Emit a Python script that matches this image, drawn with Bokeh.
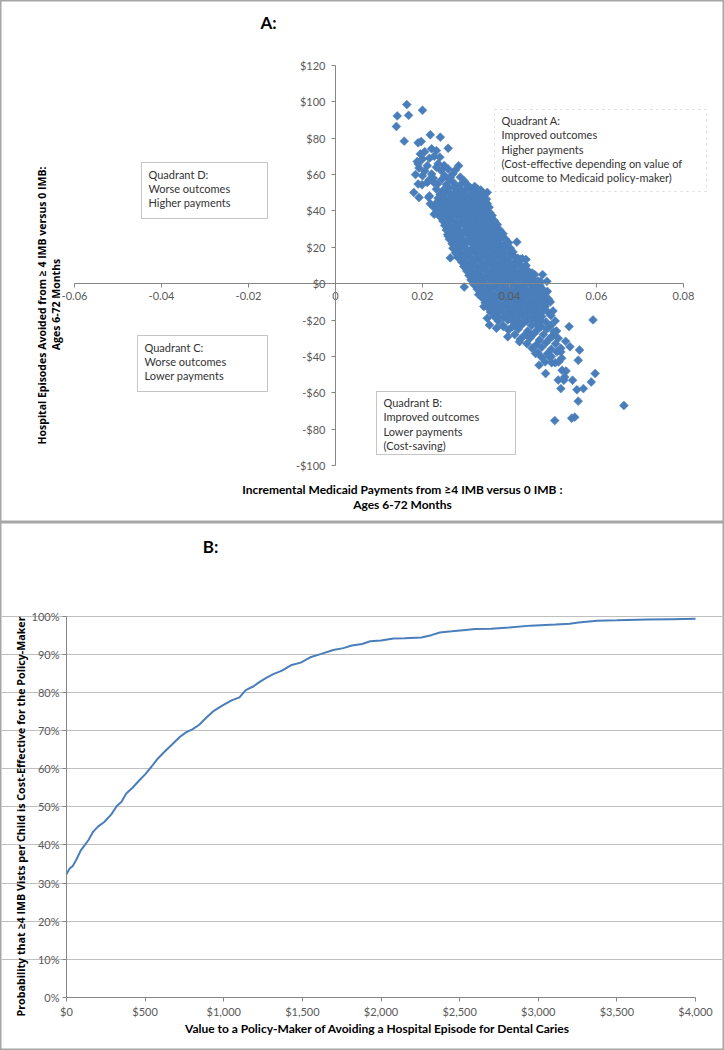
import math
from bokeh.plotting import figure
from bokeh.models import (BoxAnnotation, Label, FixedTicker, NumeralTickFormatter,
                          PrintfTickFormatter, Range1d, LinearAxis, Grid)
from bokeh.layouts import column
from bokeh.embed import file_html
from bokeh.resources import INLINE

# ---------------- Panel A data ----------------
core_cost = [
    0.0250, 0.0272, 0.0290, 0.0311, 0.0334,
    0.0241, 0.0262, 0.0283, 0.0301, 0.0323, 0.0342,
    0.0236, 0.0255, 0.0275, 0.0296, 0.0318, 0.0337,
    0.0230, 0.0249, 0.0268, 0.0289, 0.0309, 0.0330, 0.0349,
    0.0226, 0.0246, 0.0266, 0.0285, 0.0305, 0.0326, 0.0345,
    0.0231, 0.0252, 0.0272, 0.0293, 0.0314, 0.0335, 0.0355,
    0.0240, 0.0259, 0.0280, 0.0300, 0.0321, 0.0341, 0.0360,
    0.0247, 0.0268, 0.0288, 0.0309, 0.0329, 0.0350, 0.0366,
    0.0251, 0.0273, 0.0294, 0.0315, 0.0336, 0.0356, 0.0372,
    0.0255, 0.0276, 0.0298, 0.0319, 0.0340, 0.0361, 0.0378,
    0.0258, 0.0281, 0.0302, 0.0323, 0.0345, 0.0366, 0.0385,
    0.0262, 0.0284, 0.0306, 0.0328, 0.0349, 0.0370, 0.0391,
    0.0268, 0.0290, 0.0311, 0.0333, 0.0355, 0.0376, 0.0398,
    0.0270, 0.0292, 0.0314, 0.0336, 0.0358, 0.0380, 0.0402,
    0.0276, 0.0298, 0.0320, 0.0342, 0.0364, 0.0386, 0.0408,
    0.0281, 0.0303, 0.0325, 0.0347, 0.0369, 0.0391, 0.0413, 0.0425,
    0.0290, 0.0311, 0.0333, 0.0355, 0.0377, 0.0399, 0.0420,
    0.0295, 0.0317, 0.0339, 0.0361, 0.0383, 0.0405, 0.0427, 0.0438,
    0.0302, 0.0323, 0.0345, 0.0367, 0.0389, 0.0411, 0.0433,
    0.0307, 0.0329, 0.0351, 0.0373, 0.0395, 0.0417, 0.0439, 0.0458,
    0.0312, 0.0334, 0.0356, 0.0378, 0.0400, 0.0422, 0.0444, 0.0465,
    0.0318, 0.0340, 0.0362, 0.0384, 0.0406, 0.0428, 0.0450, 0.0470,
    0.0326, 0.0348, 0.0370, 0.0392, 0.0414, 0.0436, 0.0458, 0.0478,
    0.0333, 0.0354, 0.0376, 0.0398, 0.0420, 0.0442, 0.0464, 0.0484,
    0.0338, 0.0360, 0.0382, 0.0404, 0.0426, 0.0448, 0.0470, 0.0490,
    0.0344, 0.0366, 0.0388, 0.0410, 0.0432, 0.0454, 0.0476, 0.0494,
    0.0350, 0.0372, 0.0394, 0.0416, 0.0438, 0.0460, 0.0482,
    0.0356, 0.0378, 0.0400, 0.0422, 0.0444, 0.0466, 0.0488, 0.0500,
    0.0365, 0.0386, 0.0408, 0.0430, 0.0452, 0.0474, 0.0495,
    0.0374, 0.0396, 0.0418, 0.0440, 0.0462, 0.0484, 0.0505,
    0.0385, 0.0407, 0.0429, 0.0451, 0.0473, 0.0495,
    0.0398, 0.0420, 0.0442, 0.0464, 0.0486, 0.0508,
    0.0412, 0.0434, 0.0456, 0.0478, 0.0500,
    0.0425, 0.0447, 0.0469, 0.0491, 0.0512,
    0.0440, 0.0462, 0.0484, 0.0506,
    0.0452, 0.0474, 0.0496, 0.0518,
    0.0465, 0.0487, 0.0509,
    0.0474, 0.0496, 0.0520,
    0.0482, 0.0505,
]
core_effect = [
    52, 53, 51, 52.5, 51.5,
    49, 50, 49.5, 48.5, 50, 49,
    47, 46.5, 47.5, 47, 46, 47.5,
    44, 45, 44.5, 44, 45, 44.5, 44,
    42, 41.5, 42.5, 42, 41.5, 42, 42.5,
    39, 40, 39.5, 39, 40, 39.5, 39,
    37, 36.5, 37.5, 37, 36.5, 37, 37.5,
    34.5, 35, 34, 34.5, 35, 34, 34.5,
    32, 31.5, 32.5, 32, 31.5, 32, 32.5,
    29.5, 30, 29, 29.5, 30, 29, 29.5,
    27, 26.5, 27.5, 27, 26.5, 27, 27.5,
    24.5, 25, 24, 24.5, 25, 24, 24.5,
    22, 21.5, 22.5, 22, 21.5, 22, 22.5,
    19.5, 20, 19, 19.5, 20, 19, 19.5,
    17, 16.5, 17.5, 17, 16.5, 17, 17.5,
    14.5, 15, 14, 14.5, 15, 14, 14.5, 13.5,
    12, 11.5, 12.5, 12, 11.5, 12, 12.5,
    9.5, 10, 9, 9.5, 10, 9, 9.5, 10,
    7, 6.5, 7.5, 7, 6.5, 7, 7.5,
    4.5, 5, 4, 4.5, 5, 4, 4.5, 5,
    2, 1.5, 2.5, 2, 1.5, 2, 2.5, 1.5,
    -0.5, 0, -1, -0.5, 0, -1, -0.5, -1,
    -3, -3.5, -2.5, -3, -3.5, -3, -2.5, -3.5,
    -5.5, -5, -6, -5.5, -5, -6, -5.5, -5,
    -8, -8.5, -7.5, -8, -8.5, -8, -7.5, -8.5,
    -10.5, -10, -11, -10.5, -10, -11, -10.5, -10,
    -13, -13.5, -12.5, -13, -13.5, -13, -12.5,
    -15.5, -15, -16, -15.5, -15, -16, -15.5, -15,
    -18, -18.5, -17.5, -18, -18.5, -18, -17.5,
    -20.5, -20, -21, -20.5, -20, -21, -20.5,
    -23, -23.5, -22.5, -23, -23.5, -23,
    -25.5, -25, -26, -25.5, -25, -26,
    -28, -28.5, -27.5, -28, -28.5,
    -30.5, -30, -31, -30.5, -30,
    -33, -33.5, -32.5, -33,
    -35.5, -35, -36, -35.5,
    -38, -38.5, -37.5,
    -40.5, -40, -41,
    -43, -43.5,
]
fill_cost = [
    0.0261, 0.0281, 0.0300, 0.0322,
    0.0251, 0.0272, 0.0292, 0.0312, 0.0332,
    0.0245, 0.0265, 0.0285, 0.0307, 0.0327, 0.0347,
    0.0239, 0.0258, 0.0278, 0.0299, 0.0320, 0.0340,
    0.0236, 0.0256, 0.0275, 0.0295, 0.0315, 0.0335, 0.0353,
    0.0241, 0.0262, 0.0282, 0.0303, 0.0324, 0.0345,
    0.0249, 0.0270, 0.0290, 0.0310, 0.0331, 0.0350,
    0.0257, 0.0278, 0.0298, 0.0319, 0.0339, 0.0358,
    0.0262, 0.0283, 0.0304, 0.0325, 0.0346, 0.0364,
    0.0265, 0.0287, 0.0308, 0.0329, 0.0350, 0.0369,
    0.0269, 0.0291, 0.0312, 0.0334, 0.0355, 0.0375,
    0.0273, 0.0295, 0.0317, 0.0338, 0.0359, 0.0380,
    0.0279, 0.0300, 0.0322, 0.0344, 0.0365, 0.0387,
    0.0281, 0.0303, 0.0325, 0.0347, 0.0369, 0.0391,
    0.0287, 0.0309, 0.0331, 0.0353, 0.0375, 0.0397,
    0.0292, 0.0314, 0.0336, 0.0358, 0.0380, 0.0402, 0.0419,
    0.0300, 0.0322, 0.0344, 0.0366, 0.0388, 0.0410,
    0.0306, 0.0328, 0.0350, 0.0372, 0.0394, 0.0416, 0.0432,
    0.0312, 0.0334, 0.0356, 0.0378, 0.0400, 0.0422, 0.0443,
    0.0318, 0.0340, 0.0362, 0.0384, 0.0406, 0.0428, 0.0448,
    0.0323, 0.0345, 0.0367, 0.0389, 0.0411, 0.0433, 0.0455,
    0.0329, 0.0351, 0.0373, 0.0395, 0.0417, 0.0439, 0.0460,
    0.0337, 0.0359, 0.0381, 0.0403, 0.0425, 0.0447, 0.0468,
    0.0343, 0.0365, 0.0387, 0.0409, 0.0431, 0.0453, 0.0474,
    0.0349, 0.0371, 0.0393, 0.0415, 0.0437, 0.0459, 0.0480,
    0.0355, 0.0377, 0.0399, 0.0421, 0.0443, 0.0465, 0.0485,
    0.0361, 0.0383, 0.0405, 0.0427, 0.0449, 0.0471,
    0.0367, 0.0389, 0.0411, 0.0433, 0.0455, 0.0477,
    0.0375, 0.0397, 0.0419, 0.0441, 0.0463,
    0.0407, 0.0429, 0.0451, 0.0473,
    0.0418, 0.0462,
]
fill_effect = [
    52.5, 51.5, 52, 51,
    49.5, 49, 50, 49.5, 49.5,
    47, 47, 46.5, 47.5, 47, 46.5,
    44.5, 44, 45, 44.5, 44, 45,
    42, 42.5, 41.5, 42, 42.5, 41.5, 42,
    39.5, 39, 40, 39.5, 39, 40,
    37, 37.5, 36.5, 37, 37.5, 36.5,
    34.5, 34, 35, 34.5, 34, 35,
    32, 32.5, 31.5, 32, 32.5, 31.5,
    29.5, 29, 30, 29.5, 29, 30,
    27, 27.5, 26.5, 27, 27.5, 26.5,
    24.5, 24, 25, 24.5, 24, 25,
    22, 22.5, 21.5, 22, 22.5, 21.5,
    19.5, 19, 20, 19.5, 19, 20,
    17, 17.5, 16.5, 17, 17.5, 16.5,
    14.5, 14, 15, 14.5, 14, 15, 14,
    12, 12.5, 11.5, 12, 12.5, 11.5,
    9.5, 9, 10, 9.5, 9, 10, 9,
    7, 7.5, 6.5, 7, 7.5, 6.5, 7,
    4.5, 4, 5, 4.5, 4, 5, 4.5,
    2, 2.5, 1.5, 2, 2.5, 1.5, 2,
    -0.5, -1, 0, -0.5, -1, 0, -0.5,
    -3, -2.5, -3.5, -3, -2.5, -3.5, -3,
    -5.5, -6, -5, -5.5, -6, -5, -5.5,
    -8, -7.5, -8.5, -8, -7.5, -8.5, -8,
    -10.5, -11, -10, -10.5, -11, -10, -10.5,
    -13, -12.5, -13.5, -13, -12.5, -13.5,
    -15.5, -16, -15, -15.5, -16, -15,
    -18, -17.5, -18.5, -18, -17.5,
    -20.5, -21, -20, -20.5,
    -23, -22.5,
]
outer_cost = [
    0.0164, 0.0142, 0.0168, 0.0200, 0.0140, 0.0158, 0.0190, 0.0197, 0.0218, 0.0241,
    0.0221, 0.0232, 0.0259, 0.0195, 0.0205, 0.0200, 0.0216, 0.0227, 0.0240, 0.0188,
    0.0190, 0.0211, 0.0192, 0.0184, 0.0200, 0.0221, 0.0243, 0.0259, 0.0283, 0.0276,
    0.0251, 0.0264, 0.0287, 0.0245, 0.0190, 0.0211, 0.0226, 0.0199, 0.0180, 0.0214,
    0.0192, 0.0216, 0.0232, 0.0248, 0.0227, 0.0241, 0.0349, 0.0327, 0.0301, 0.0314,
    0.0352, 0.0417, 0.0438, 0.0430, 0.0452, 0.0476, 0.0486, 0.0296, 0.0312, 0.0259,
    0.0264, 0.0280, 0.0349, 0.0370, 0.0354, 0.0386, 0.0396, 0.0423, 0.0449, 0.0460,
    0.0492, 0.0497, 0.0502, 0.0537, 0.0592, 0.0539, 0.0561, 0.0518, 0.0513, 0.0468,
    0.0483, 0.0521, 0.0527, 0.0558, 0.0597, 0.0588, 0.0570, 0.0555, 0.0518, 0.0525,
    0.0558, 0.0550, 0.0543, 0.0504, 0.0663, 0.0545, 0.0497, 0.0512, 0.0530, 0.0329,
    0.0341, 0.0529, 0.0471, 0.0487,
    0.0235, 0.0255, 0.0270, 0.0290, 0.0305, 0.0225, 0.0262, 0.0280, 0.0320, 0.0232,
    0.0205, 0.0215, 0.0236, 0.0250, 0.0270, 0.0296, 0.0242, 0.0218,
]
outer_effect = [
    98.5, 92.3, 92.6, 95.4, 86.5, 78.4, 77.5, 78.2, 81.9, 80.6,
    74.2, 73.2, 74.5, 71.4, 72.6, 68.6, 69.0, 70.1, 69.6, 67.2,
    65.9, 64.9, 63.6, 60.0, 59.4, 60.3, 62.2, 63.1, 64.9, 62.6,
    59.4, 58.6, 58.6, 57.5, 54.8, 55.7, 55.6, 54.4, 50.2, 47.5,
    47.4, 48.3, 52.0, 51.1, 38.2, 37.3, 50.2, 52.0, 52.0, 48.3,
    38.2, 22.9, 13.3, 13.7, 5.9, 5.0, 1.3, -1.8, 2.2, 26.2,
    14.2, 16.1, -19.0, -24.5, -22.7, -23.6, -29.2, -31.9, -29.2, -38.4,
    -40.2, -29.2, -26.4, -23.6, -19.9, -34.7, -36.5, -37.5, -43.0, -44.8,
    -49.4, -47.6, -51.3, -42.1, -49.4, -54.1, -57.7, -58.3, -57.7, -53.1,
    -64.6, -73.4, -74.0, -75.3, -67.0, -53.1, -43.5, -53.0, -48.0, -6.0,
    -12.5, -31.7, 1.3, -4.2,
    55.0, 54.5, 56.0, 55.0, 54.0, 58.0, 57.5, 53.5, 53.5, 64.0,
    62.0, 57.0, 66.0, 65.0, 60.5, 56.5, 49.0, 44.0,
]
a_x_ticks = [-0.06, -0.04, -0.02, 0, 0.02, 0.04, 0.06, 0.08]
a_y_ticks = [-100, -80, -60, -40, -20, 0, 20, 40, 60, 80, 100, 120]

quad_a_text = ["Quadrant  A:", "Improved  outcomes", "Higher payments",
               "(Cost-effective depending  on value of", "outcome to Medicaid policy-maker)"]
quad_b_text = ["Quadrant  B:", "Improved outcomes", "Lower payments", "(Cost-saving)"]
quad_c_text = ["Quadrant  C:", "Worse outcomes", "Lower payments"]
quad_d_text = ["Quadrant  D:", "Worse outcomes", "Higher payments"]

# ---------------- Panel B data ----------------
wtp_value = [0, 20, 40, 65, 90, 110, 140, 170, 200, 240, 285, 320, 350, 380, 420, 462,
             500, 540, 580, 620, 668, 720, 760, 800, 844, 890, 932, 990, 1050, 1100,
             1140, 1190, 1226, 1270, 1315, 1370, 1432, 1490, 1550, 1620, 1697, 1760,
             1815, 1880, 1932, 2000, 2079, 2150, 2256, 2320, 2374, 2450, 2521, 2600,
             2700, 2815, 2950, 3109, 3200, 3256, 3374, 3500, 3697, 3850, 4000]
prob_ce = [32.3, 33.8, 34.5, 36.3, 38.5, 39.6, 41.3, 43.5, 44.8, 46.0, 48.0, 50.2, 51.3,
           53.5, 55.0, 56.9, 58.5, 60.5, 62.6, 64.3, 66.2, 68.3, 69.5, 70.3, 71.5, 73.4,
           75.0, 76.5, 77.9, 78.7, 80.6, 81.6, 82.7, 83.8, 84.8, 85.7, 87.2, 87.8, 89.2,
           90.1, 91.1, 91.6, 92.3, 92.7, 93.4, 93.6, 94.1, 94.2, 94.4, 95.0, 95.7, 96.0,
           96.3, 96.6, 96.7, 97.0, 97.5, 97.8, 98.0, 98.3, 98.8, 98.9, 99.1, 99.2, 99.3]
b_x_ticks = [0, 500, 1000, 1500, 2000, 2500, 3000, 3500, 4000]
b_y_ticks = [0, 10, 20, 30, 40, 50, 60, 70, 80, 90, 100]

BLUE = "#4a7ebb"
TICK_COLOR = "#595959"
AXIS_COLOR = "#868686"
FONT = "Lato"
TITLE_FONT = "Open Sans"

# ================= Panel A =================
pA = figure(width=724, height=522, x_range=Range1d(-0.07701, 0.08943),
            y_range=Range1d(-131.34, 155.76), output_backend="svg", toolbar_location=None,
            min_border=0, x_axis_location=None, y_axis_location=None)
pA.xgrid.visible = False
pA.ygrid.visible = False
pA.outline_line_color = "#a6a6a6"
pA.outline_line_width = 2
pA.background_fill_color = "white"

xa = LinearAxis(fixed_location=0, bounds=(-0.06, 0.08), ticker=FixedTicker(ticks=a_x_ticks),
                formatter=NumeralTickFormatter(format="0.[00]"))
ya = LinearAxis(fixed_location=0, bounds=(-100, 120), ticker=FixedTicker(ticks=a_y_ticks),
                formatter=NumeralTickFormatter(format="$0"))
for ax in (xa, ya):
    ax.axis_line_color = AXIS_COLOR
    ax.major_tick_line_color = AXIS_COLOR
    ax.major_tick_in = 0
    ax.major_tick_out = 4
    ax.minor_tick_line_color = None
    ax.major_label_text_font = FONT
    ax.major_label_text_font_size = "11px"
    ax.major_label_text_color = TICK_COLOR
xa.major_label_standoff = 4
ya.major_label_standoff = 6
pA.add_layout(xa, "below")
pA.add_layout(ya, "left")

for xs, ys in ((core_cost, core_effect), (fill_cost, fill_effect), (outer_cost, outer_effect)):
    pA.scatter(xs, ys, marker="square", angle=math.pi / 4, size=6.3,
               fill_color=BLUE, line_color=BLUE, line_width=0.5)

def add_box(p, left, right, top, bottom, dash="solid", color="#404040"):
    p.add_layout(BoxAnnotation(left=left, right=right, top=top, bottom=bottom,
                               fill_color="white", fill_alpha=1.0, line_color=color,
                               line_width=1, line_dash=dash))

def add_lines(p, lines, x, ys):
    for t, yy in zip(lines, ys):
        p.add_layout(Label(x=x, y=yy, text=t, text_font=FONT, text_font_size="11px",
                           text_color="#333333", text_align="left", text_baseline="middle"))

add_box(pA, -0.0446, -0.01563, 66.66, 35.86)
add_lines(pA, quad_d_text, -0.04299, [60.28, 52.36, 44.66])
add_box(pA, -0.04552, -0.01563, -28.49, -59.29)
add_lines(pA, quad_c_text, -0.04391, [-34.87, -42.79, -50.49])
add_box(pA, 0.009425, 0.04138, -59.29, -93.94)
add_lines(pA, quad_b_text, 0.01103, [-65.34, -73.31, -81.12, -88.77])
add_box(pA, 0.03655, 0.08529, 95.81, 50.71, dash="dotted", color="#7f7f7f")
add_lines(pA, quad_a_text, 0.03816, [89.98, 82.06, 74.03, 66.22, 58.57])

pA.add_layout(Label(x=-0.0154, y=143.66, text="A:", text_font=FONT, text_font_size="17px",
                    text_font_style="bold", text_color="black", text_align="center",
                    text_baseline="middle"))
pA.add_layout(Label(x=0.0154, y=-113.1, text="Incremental Medicaid Payments from \u22654 IMB versus 0 IMB :",
                    text_font=FONT, text_font_size="12px", text_font_style="bold",
                    text_color="black", text_align="center", text_baseline="middle"))
pA.add_layout(Label(x=0.0154, y=-121.4, text="Ages 6-72 Months",
                    text_font=FONT, text_font_size="12px", text_font_style="bold",
                    text_color="black", text_align="center", text_baseline="middle"))
pA.add_layout(Label(x=-0.06736, y=-12.0, text="Hospital Episodes Avoided from \u2265 4 IMB versus 0 IMB:",
                    angle=math.pi / 2, text_font=TITLE_FONT, text_font_size="10.5px",
                    text_font_style="bold", text_color="black", text_align="center",
                    text_baseline="middle"))
pA.add_layout(Label(x=-0.06414, y=-11.4, text="Ages 6-72 Months",
                    angle=math.pi / 2, text_font=TITLE_FONT, text_font_size="10.5px",
                    text_font_style="bold", text_color="black", text_align="center",
                    text_baseline="middle"))

# ================= Panel B =================
pB = figure(width=724, height=528, x_range=Range1d(-419.7, 4184.4),
            y_range=Range1d(-13.90, 124.54), output_backend="svg", toolbar_location=None,
            min_border=0, x_axis_location=None, y_axis_location=None)
pB.xgrid.visible = False
pB.ygrid.visible = False
pB.outline_line_color = "#a6a6a6"
pB.outline_line_width = 2

grid = Grid(dimension=1, ticker=FixedTicker(ticks=b_y_ticks[1:]), bounds=(0, 4000),
            grid_line_color="#bfbfbf", grid_line_width=1)
pB.add_layout(grid)

xb = LinearAxis(fixed_location=0, bounds=(0, 4000), ticker=FixedTicker(ticks=b_x_ticks),
                formatter=NumeralTickFormatter(format="$0,0"))
yb = LinearAxis(fixed_location=0, bounds=(0, 100), ticker=FixedTicker(ticks=b_y_ticks),
                formatter=PrintfTickFormatter(format="%d%%"))
for ax in (xb, yb):
    ax.axis_line_color = AXIS_COLOR
    ax.major_tick_line_color = AXIS_COLOR
    ax.major_tick_in = 0
    ax.major_tick_out = 4
    ax.minor_tick_line_color = None
    ax.major_label_text_font = FONT
    ax.major_label_text_font_size = "11px"
    ax.major_label_text_color = TICK_COLOR
xb.major_label_standoff = 4
yb.major_label_standoff = 3
pB.add_layout(xb, "below")
pB.add_layout(yb, "left")

pB.line(wtp_value, prob_ce, line_color=BLUE, line_width=2)

pB.add_layout(Label(x=915.7, y=118.25, text="B:", text_font=FONT, text_font_size="17px",
                    text_font_style="bold", text_color="black", text_align="center",
                    text_baseline="middle"))
pB.add_layout(Label(x=1996.8, y=-8.13,
                    text="Value to a Policy-Maker of  Avoiding a Hospital  Episode for Dental Caries",
                    text_font=FONT, text_font_size="12px", text_font_style="bold",
                    text_color="black", text_align="center", text_baseline="middle"))
pB.add_layout(Label(x=-286.2, y=47.46,
                    text="Probability that \u22654 IMB Vists per Child is Cost-Effective for the Policy-Maker",
                    angle=math.pi / 2, text_font=TITLE_FONT, text_font_size="10.7px",
                    text_font_style="bold", text_color="black", text_align="center",
                    text_baseline="middle"))

layout = column(pA, pB, spacing=0)
open("out.html", "w").write(file_html(layout, INLINE))
